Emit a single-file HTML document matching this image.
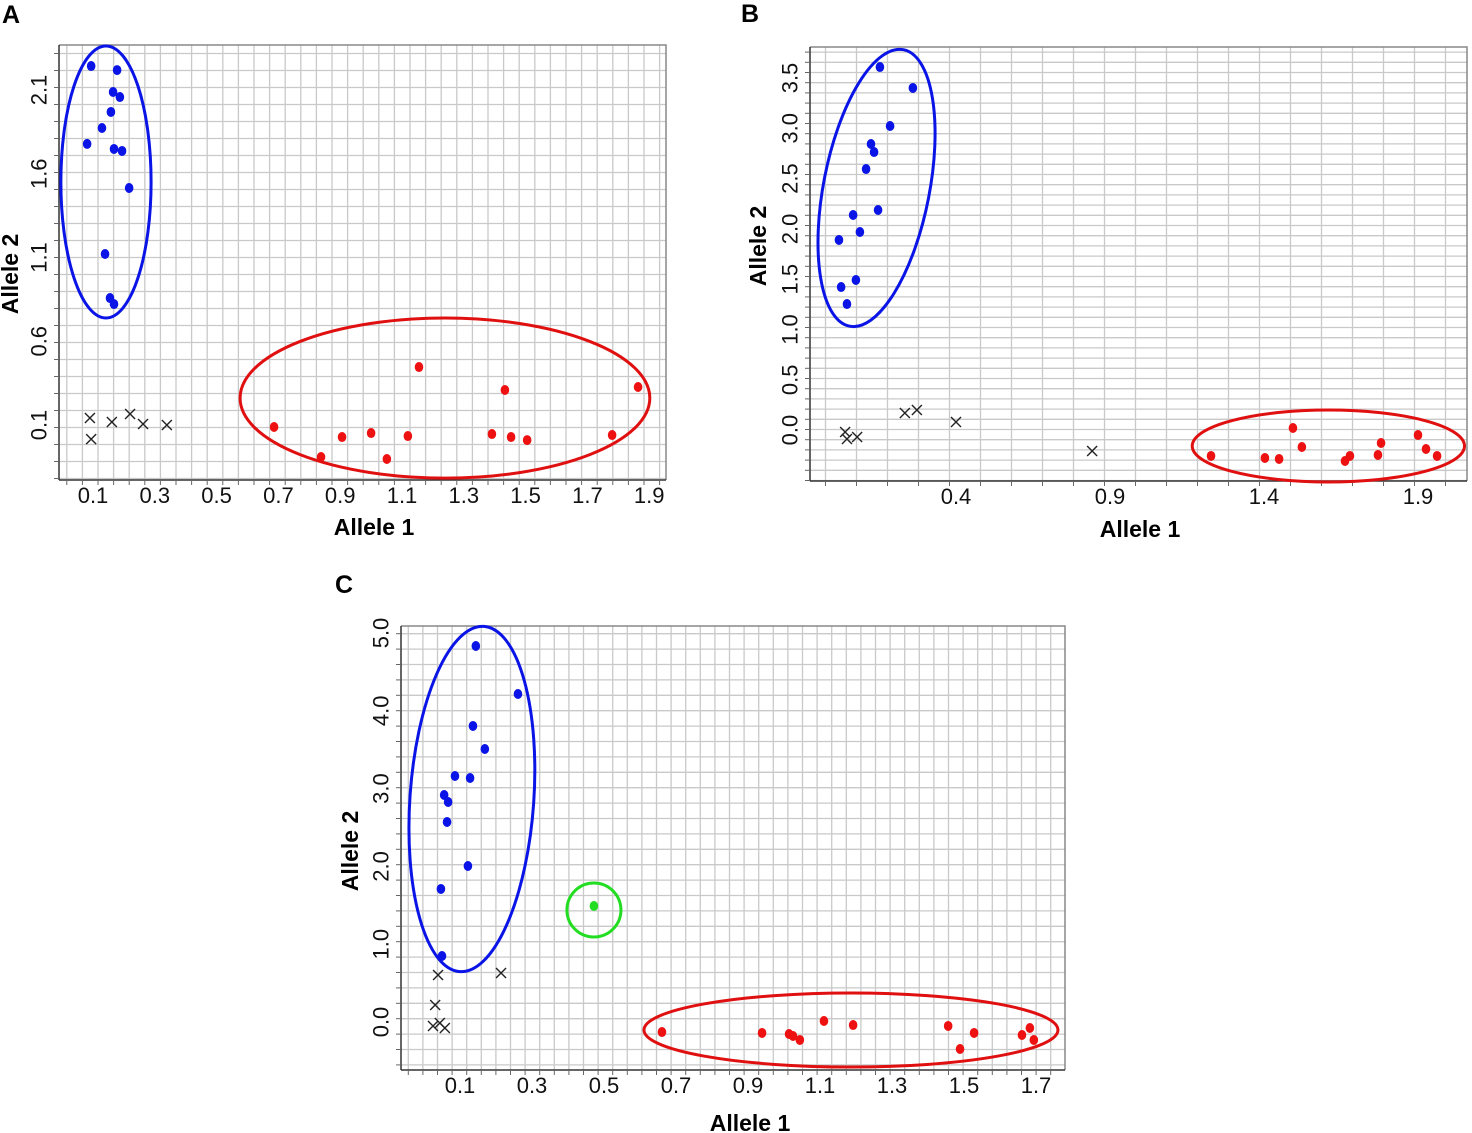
<!DOCTYPE html>
<html><head><meta charset="utf-8"><style>
html,body{margin:0;padding:0;background:#fff;}
svg{display:block;font-family:"Liberation Sans",Arial,sans-serif;}
</style></head><body>
<svg id="fig" width="1472" height="1133" viewBox="0 0 1472 1133"></svg>
<script>
// ---------- Panel A data ----------
const aXTicks=[0.1,0.3,0.5,0.7,0.9,1.1,1.3,1.5,1.7,1.9];
const aXTickLabels=["0.1","0.3","0.5","0.7","0.9","1.1","1.3","1.5","1.7","1.9"];
const aYTicks=[2.1,1.6,1.1,0.6,0.1];
const aYTickLabels=["2.1","1.6","1.1","0.6","0.1"];
const aBlueX=[0.094,0.178,0.165,0.187,0.158,0.129,0.081,0.168,0.194,0.217,0.139,0.155,0.168];
const aBlueY=[2.243,2.219,2.088,2.058,1.969,1.873,1.778,1.748,1.736,1.515,1.121,0.858,0.822];
const aRedX=[0.686,0.838,0.906,1.0,1.051,1.119,1.155,1.391,1.433,1.453,1.505,1.780,1.864];
const aRedY=[0.088,-0.091,0.028,0.052,-0.103,0.034,0.446,0.046,0.309,0.028,0.010,0.040,0.327];
const aCrossX=[0.090,0.094,0.161,0.220,0.262,0.339];
const aCrossY=[0.142,0.016,0.118,0.166,0.106,0.100];
// ---------- Panel B data ----------
const bXTicks=[0.4,0.9,1.4,1.9];
const bXTickLabels=["0.4","0.9","1.4","1.9"];
const bYTicks=[3.5,3.0,2.5,2.0,1.5,1.0,0.5,0.0];
const bYTickLabels=["3.5","3.0","2.5","2.0","1.5","1.0","0.5","0.0"];
const bBlueX=[0.153,0.260,0.186,0.124,0.134,0.108,0.147,0.066,0.088,0.020,0.075,0.027,0.046];
const bBlueY=[3.609,3.401,3.023,2.844,2.764,2.595,2.188,2.138,1.969,1.890,1.492,1.422,1.253];
const bRedX=[1.228,1.403,1.449,1.494,1.523,1.663,1.679,1.770,1.780,1.900,1.926,1.962];
const bRedY=[-0.257,-0.277,-0.287,0.021,-0.168,-0.307,-0.257,-0.247,-0.128,-0.049,-0.188,-0.257];
const bCrossX=[0.040,0.046,0.079,0.234,0.273,0.400,0.842];
const bCrossY=[-0.019,-0.089,-0.069,0.170,0.200,0.081,-0.208];
// ---------- Panel C data ----------
const cXTicks=[0.1,0.3,0.5,0.7,0.9,1.1,1.3,1.5,1.7];
const cXTickLabels=["0.1","0.3","0.5","0.7","0.9","1.1","1.3","1.5","1.7"];
const cYTicks=[5.0,4.0,3.0,2.0,1.0,0.0];
const cYTickLabels=["5.0","4.0","3.0","2.0","1.0","0.0"];
const cBlueX=[0.144,0.261,0.136,0.169,0.086,0.128,0.056,0.067,0.064,0.122,0.047,0.050];
const cBlueY=[4.833,4.216,3.805,3.509,3.162,3.136,2.918,2.828,2.571,2.005,1.710,0.848];
const cGreenX=[0.472];
const cGreenY=[1.491];
const cRedX=[0.661,0.939,1.014,1.025,1.044,1.111,1.192,1.456,1.489,1.528,1.661,1.683,1.694];
const cRedY=[-0.129,-0.141,-0.154,-0.180,-0.231,0.013,-0.039,-0.051,-0.347,-0.141,-0.167,-0.077,-0.231];
const cCrossX=[0.039,0.214,0.031,0.025,0.044,0.058];
const cCrossY=[0.604,0.630,0.219,-0.051,-0.013,-0.077];

const NS="http://www.w3.org/2000/svg";
const svg=document.getElementById('fig');
function mk(tag,attrs,parent){const e=document.createElementNS(NS,tag);for(const k in attrs)e.setAttribute(k,attrs[k]);(parent||svg).appendChild(e);return e;}

function panel(p){
  const g=mk('g',{});
  
  
  const sx=v=>p.x0px+(v-p.x0v)*p.xk;
  const sy=v=>p.y0px-(v-p.y0v)*p.yk;
  const L=mk('text',{x:p.letter[0],y:p.letter[1],'font-size':25,'font-weight':'bold',fill:'#000'},g);
  L.textContent=p.id.toUpperCase();
  
  
  mk('rect',{x:p.l,y:p.t,width:p.r-p.l,height:p.b-p.t,fill:'#fff'},g);
  const grid=mk('g',{stroke:'#c9c9c9','stroke-width':1.3},g);
  
  
  for(let x=p.l+p.gx/2;x<p.r;x+=p.gx)mk('line',{x1:x,x2:x,y1:p.t,y2:p.b},grid);
  for(let y=p.t+p.gy/2;y<p.b;y+=p.gy)mk('line',{x1:p.l,x2:p.r,y1:y,y2:y},grid);
  mk('path',{d:`M${p.l},${p.t}H${p.r}V${p.b}`,fill:'none',stroke:'#888','stroke-width':1.5},g);
  mk('line',{x1:p.l,x2:p.l,y1:p.t,y2:p.b,stroke:'#333','stroke-width':1.5},g);
  mk('line',{x1:p.l,x2:p.r,y1:p.b,y2:p.b,stroke:'#333','stroke-width':1.5},g);
  for(let y=p.t+p.gy/2;y<p.b;y+=p.gy)mk('line',{x1:p.l-5,x2:p.l,y1:y,y2:y,stroke:'#666','stroke-width':1},g);
  for(let x=p.l+p.gx/2;x<p.r;x+=p.gx)mk('line',{x1:x,x2:x,y1:p.b,y2:p.b+5,stroke:'#666','stroke-width':1},g);
  p.xt.forEach((v,i)=>{const t=mk('text',{x:sx(v),y:p.b+23,'font-size':22,'text-anchor':'middle',fill:'#111'},g);t.textContent=p.xtl[i];
    
    });
  p.yt.forEach((v,i)=>{const yy=sy(v);const t=mk('text',{x:p.l-20,y:yy,'font-size':22,'text-anchor':'middle',fill:'#111',transform:`rotate(-90 ${p.l-20} ${yy})`,'dominant-baseline':'central'},g);t.textContent=p.ytl[i];
    
    });
  const xt=mk('text',{x:p.xtitle[0],y:p.xtitle[1],'font-size':23,'font-weight':'bold','text-anchor':'middle'},g);xt.textContent='Allele 1';
  
  
  const yt=mk('text',{x:p.ytitle[0],y:p.ytitle[1],'font-size':23,'font-weight':'bold','text-anchor':'middle',transform:`rotate(-90 ${p.ytitle[0]} ${p.ytitle[1]})`,'dominant-baseline':'central'},g);yt.textContent='Allele 2';
  
  
  p.series.forEach(s=>{
    s.x.forEach((v,i)=>{
      const cx=sx(v),cy=sy(s.y[i]);
      if(s.type==='x'){
        const c=mk('path',{d:`M${cx-5},${cy-5}L${cx+5},${cy+5}M${cx+5},${cy-5}L${cx-5},${cy+5}`,stroke:'#222','stroke-width':1.4,fill:'none'},g);
        
        
      }else{
        const c=mk('ellipse',{cx:cx,cy:cy,rx:4.3,ry:5,fill:s.color},g);
        
        
      }
    });
  });
  p.ell.forEach(e=>{
    const cx=sx(e.cx),cy=sy(e.cy),rx=e.rx*p.xk,ry=e.ry*p.yk;
    const el=mk('ellipse',{cx:cx,cy:cy,rx:rx,ry:ry,fill:'none',stroke:e.color,'stroke-width':3,transform:`rotate(${e.rot||0} ${cx} ${cy})`},g);
    
    
  });
}

panel({id:'a',letter:[2,23],l:59,r:666,t:45,b:480,gx:15.6,gy:17,
  x0px:93,x0v:0.1,xk:309,y0px:90,y0v:2.1,yk:167.5,
  xt:aXTicks,xtl:aXTickLabels,yt:aYTicks,ytl:aYTickLabels,
  xtitle:[374,535],ytitle:[10,274],
  series:[{x:aBlueX,y:aBlueY,color:'#0a14e6',name:'blue-cluster-point'},{x:aRedX,y:aRedY,color:'#ee1111',name:'red-cluster-point'},{x:aCrossX,y:aCrossY,type:'x'}],
  ell:[{cx:0.142,cy:1.551,rx:0.146,ry:0.812,color:'#0a14e6',name:'blue-cluster-ellipse'},{cx:1.239,cy:0.261,rx:0.663,ry:0.478,color:'#e01010',name:'red-cluster-ellipse'}]});

panel({id:'b',letter:[741,22],l:810,r:1467,t:47,b:481,gx:31,gy:10.2,
  x0px:956,x0v:0.4,xk:308,y0px:78,y0v:3.5,yk:100.6,
  xt:bXTicks,xtl:bXTickLabels,yt:bYTicks,ytl:bYTickLabels,
  xtitle:[1140,537],ytitle:[758,246],
  series:[{x:bBlueX,y:bBlueY,color:'#0a14e6',name:'blue-cluster-point'},{x:bRedX,y:bRedY,color:'#ee1111',name:'red-cluster-point'},{x:bCrossX,y:bCrossY,type:'x'}],
  ell:[{cx:0.142,cy:2.407,rx:0.172,ry:1.40,rot:11,color:'#0a14e6',name:'blue-cluster-ellipse'},{cx:1.609,cy:-0.158,rx:0.442,ry:0.358,color:'#e01010',name:'red-cluster-ellipse'}]});

panel({id:'c',letter:[335,593],l:401,r:1065,t:626,b:1070,gx:14.6,gy:15.4,
  x0px:460,x0v:0.1,xk:360,y0px:633,y0v:5.0,yk:77.8,
  xt:cXTicks,xtl:cXTickLabels,yt:cYTicks,ytl:cYTickLabels,
  xtitle:[750,1131],ytitle:[350,851],
  series:[{x:cBlueX,y:cBlueY,color:'#0a14e6',name:'blue-cluster-point'},{x:cGreenX,y:cGreenY,color:'#22dd22',name:'green-cluster-point'},{x:cRedX,y:cRedY,color:'#ee1111',name:'red-cluster-point'},{x:cCrossX,y:cCrossY,type:'x'}],
  ell:[{cx:0.133,cy:2.866,rx:0.172,ry:2.224,rot:4,color:'#0a14e6',name:'blue-cluster-ellipse'},{cx:0.472,cy:1.44,rx:0.075,ry:0.347,color:'#22dd22',name:'green-cluster-ellipse'},{cx:1.186,cy:-0.103,rx:0.575,ry:0.476,color:'#e01010',name:'red-cluster-ellipse'}]});
</script>
</body></html>
